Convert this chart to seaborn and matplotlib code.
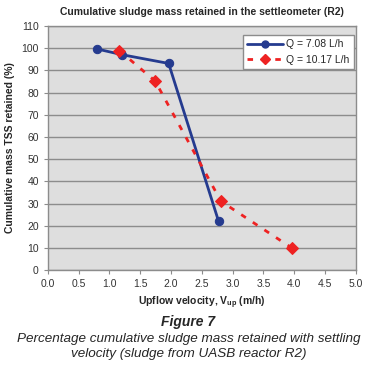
import numpy as np
import pandas as pd
import seaborn as sns
import matplotlib.pyplot as plt
from matplotlib.lines import Line2D

sns.set_style("ticks")
plt.rcParams['font.family'] = ['Liberation Sans', 'DejaVu Sans']

# Data
vup_q1 = [0.80, 1.21, 1.96, 2.77]
tss_q1 = [99.6, 97.0, 93.1, 22.1]
vup_q2 = [1.16, 1.74, 2.81, 3.97]
tss_q2 = [98.9, 85.2, 31.0, 9.8]
label_q1 = 'Q = 7.08 L/h'
label_q2 = 'Q = 10.17 L/h'

df1 = pd.DataFrame({'v': vup_q1, 'tss': tss_q1})
df2 = pd.DataFrame({'v': vup_q2, 'tss': tss_q2})

fig = plt.figure(figsize=(3.77, 3.65), dpi=100)
ax = fig.add_axes([0.127, 0.26, 0.817, 0.669])
ax.set_facecolor('#dedede')

sns.lineplot(data=df1, x='v', y='tss', ax=ax, color='#253b8f', lw=2,
             marker='o', markersize=6, markeredgecolor='#253b8f', sort=False)
sns.lineplot(data=df2, x='v', y='tss', ax=ax, color='#ee2222', lw=2,
             linestyle=(0, (2, 3)), marker='D', markersize=6,
             markeredgecolor='#ee2222', sort=False)

ax.set_xlim(0, 5)
ax.set_ylim(0, 110)
ax.set_xticks(np.arange(0, 5.01, 0.5))
ax.set_xticklabels([f"{t:.1f}" for t in np.arange(0, 5.01, 0.5)])
ax.set_yticks(np.arange(0, 111, 10))
ax.yaxis.grid(True, color='#8c8c8c', lw=1)
for s in ax.spines.values():
    s.set_color('#8c8c8c')
    s.set_linewidth(1)
ax.tick_params(colors='#8c8c8c', length=3, labelcolor='#333333',
               labelsize=7.5)

ax.set_xlabel('Upflow velocity, V$_{\\mathregular{up}}$ (m/h)', fontsize=7.5,
              fontweight='bold', labelpad=4)
ax.set_ylabel('Cumulative mass TSS retained (%)', fontsize=7.5,
              fontweight='bold', labelpad=5)
ax.set_title('Cumulative sludge mass retained in the settleometer (R2)',
             fontsize=7.5, fontweight='bold', pad=8)

handles = [
    Line2D([], [], color='#253b8f', lw=2, marker='o', markersize=5),
    Line2D([], [], color='#ee2222', lw=2, linestyle=(0, (2, 3)), marker='D',
           markersize=5),
]
leg = ax.legend(handles, [label_q1, label_q2], loc='upper right',
                bbox_to_anchor=(1.0, 0.97), fontsize=7.5, frameon=True,
                fancybox=False, handlelength=3.5, borderaxespad=0.2,
                handletextpad=0.3)
leg.get_frame().set_edgecolor('#8c8c8c')
leg.get_frame().set_facecolor('white')
leg.get_frame().set_alpha(1)

fig.text(0.5, 0.107, 'Figure 7', ha='center', fontsize=10,
         fontweight='bold', style='italic')
fig.text(0.5, 0.022, 'Percentage cumulative sludge mass retained with settling\n'
         'velocity (sludge from UASB reactor R2)', ha='center', fontsize=9.7,
         style='italic', linespacing=1.3)

fig.savefig('out.png', dpi=100)
